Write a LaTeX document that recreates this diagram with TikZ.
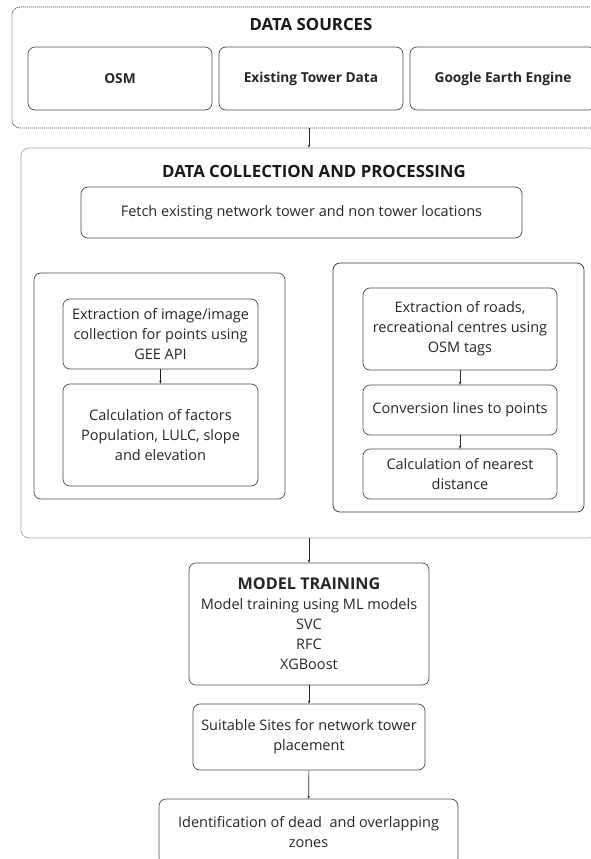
\documentclass[tikz,border=0pt]{standalone}
\usepackage{fontspec}
\setmainfont{Open Sans}
\usetikzlibrary{arrows.meta}
\begin{document}
\begin{tikzpicture}[x=1pt,y=-1pt,>={Stealth[length=3pt,width=2.6pt]},
  box/.style={draw=gray!60!black,line width=0.7pt,rounded corners=7pt,align=center,inner sep=0pt,
    text=black!85,font=\fontsize{14.5}{20}\selectfont},
  srcbox/.style={box,font=\fontsize{13.7}{16}\selectfont\bfseries},
  head/.style={text=black!90,font=\fontsize{16.8}{19}\selectfont\bfseries},
  link/.style={->,gray!30!black,line width=0.6pt}]
\useasboundingbox (0,0) rectangle (591,859);
\node[box,dash pattern=on 1.2pt off 0.8pt,rounded corners=8pt,minimum width=594,minimum height=121](ds) at (309,67.5){};
\node[head](dsT) at (311,24){DATA SOURCES};
\node[srcbox,minimum width=184,minimum height=63](osm) at (120,78.5){OSM};
\node[srcbox,minimum width=184,minimum height=63](etd) at (311,78.5){Existing Tower Data};
\node[srcbox,minimum width=186,minimum height=63](gee) at (503,78.5){Google Earth Engine};
\node[box,draw=gray!70,rounded corners=8pt,minimum width=576,minimum height=390](dc) at (309,343){};
\node[head](dcT) at (314,171){DATA COLLECTION AND PROCESSING};
\node[box,minimum width=441,minimum height=51](fetch) at (301.5,212.5){Fetch existing network tower and non tower locations};
\node[box,minimum width=251,minimum height=226](lg) at (159.5,386){};
\node[box,draw=black!80,minimum width=251,minimum height=249](rg) at (458.5,387.5){};
\node[box,minimum width=195,minimum height=70](geeA) at (160.5,334){Extraction of image/image\\collection for points using\\GEE API};
\node[box,minimum width=195,minimum height=102](geeB) at (160.5,435){Calculation of factors\\Population, LULC, slope\\and elevation};
\node[box,minimum width=194,minimum height=82](osmA) at (460,329){Extraction of roads,\\recreational centres using\\OSM tags};
\node[box,minimum width=194,minimum height=50](osmB) at (460,410){Conversion lines to points};
\node[box,minimum width=194,minimum height=50](osmC) at (460,474){Calculation of nearest\\distance};
\node[box,minimum width=240,minimum height=122](mt) at (309,624){{\fontsize{16.2}{20}\selectfont\bfseries MODEL TRAINING}\\Model training using ML models\\SVC\\RFC\\XGBoost};
\node[box,minimum width=232,minimum height=66](ss) at (309,737){Suitable Sites for network tower\\placement};
\node[box,minimum width=299,minimum height=66](dz) at (308.5,832){Identification of dead\ \ and overlapping\\zones};
\draw[link](ds.south)--(dc.north);
\draw[link](geeA)--(geeB);
\draw[link](osmA)--(osmB);
\draw[link](osmB)--(osmC);
\draw[link](dc.south)--(mt.north);
\draw[link](mt)--(ss);
\draw[link](ss)--(dz);
\end{tikzpicture}
\end{document}
